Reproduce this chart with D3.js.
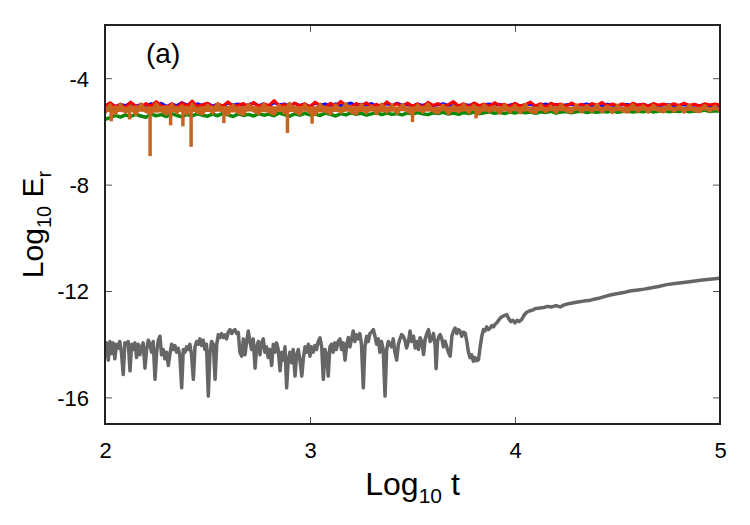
<!DOCTYPE html>
<html>
<head>
<meta charset="utf-8">
<script src="https://cdn.jsdelivr.net/npm/d3@7"></script>
<style>
  body { margin: 0; background: #fff; }
  text { font-family: "Liberation Sans", Arial, sans-serif; fill: #000; }
</style>
</head>
<body>
<div id="chart"></div>
<script>
// tick values
const xTicks = [2, 3, 4, 5];
const yTicks = [-4, -8, -12, -16];

// top band: one value per sample, samples spread evenly over log10 t = 2..5
const redVals = [-5.05,-4.92,-5.08,-4.98,-5.10,-4.90,-5.04,-5.12,-4.95,-5.06,
-4.88,-5.03,-5.09,-4.96,-5.11,-4.93,-5.05,-4.86,-5.07,-5.00,
-4.94,-5.10,-4.97,-5.04,-4.89,-5.08,-5.01,-4.95,-5.09,-4.91,
-5.06,-4.97,-5.02,-4.84,-5.05,-4.99,-5.10,-4.93,-5.04,-4.96,
-5.08,-4.90,-5.03,-5.11,-4.94,-5.06,-4.87,-5.02,-5.09,-4.95,
-5.04,-4.92,-5.07,-4.98,-5.10,-4.89,-5.03,-4.96,-5.08,-4.93,
-5.05,-4.97,-5.09,-4.91,-5.02,-4.95,-5.07,-4.99,-4.88,-5.04,
-4.96,-5.08,-4.93,-5.03,-4.97,-5.06,-4.92,-5.02,-4.98,-5.07,
-4.94,-5.05,-4.99,-4.90,-5.04,-4.96,-5.08,-4.94,-5.01,-4.97,
-5.06,-4.93,-5.03,-4.98,-5.07,-4.95,-5.02,-4.91,-5.05,-4.97,
-5.03,-4.96,-5.06,-4.94,-5.02,-4.98,-5.05,-4.95,-5.01,-4.97,
-5.04,-4.96,-5.03,-4.94,-5.02,-4.98,-5.05,-4.96,-5.01,-4.97,-5.00];

const blueVals = [-5.02,-4.95,-5.06,-4.98,-5.03,-4.93,-5.05,-4.99,-5.04,-4.96,
-5.01,-4.94,-5.06,-4.97,-5.03,-4.92,-5.00,-5.05,-4.96,-5.02,
-4.95,-5.04,-4.98,-5.06,-4.93,-5.01,-4.97,-5.05,-4.99,-4.94,
-5.03,-4.96,-5.05,-4.92,-5.00,-4.97,-5.04,-4.95,-5.02,-4.98,
-5.06,-4.94,-5.01,-4.97,-5.05,-4.96,-5.03,-4.99,-4.93,-5.04,
-4.98,-5.02,-4.95,-5.06,-5.00,-4.96,-5.03,-4.94,-5.01,-4.99,
-5.05,-4.97,-5.02,-4.95,-5.04,-5.00,-4.96,-5.03,-4.98,-5.05,
-4.99,-5.02,-4.96,-5.04,-5.00,-4.97,-5.03,-4.98,-5.06,-5.01,
-4.97,-5.04,-5.00,-4.98,-5.05,-5.01,-4.97,-5.03,-4.99,-5.04,
-5.00,-4.98,-5.05,-5.01,-4.97,-5.03,-5.00,-5.04,-4.98,-5.02,
-5.05,-5.00,-4.99,-5.04,-5.01,-4.98,-5.03,-5.00,-5.05,-5.01,
-4.99,-5.04,-5.02,-5.00,-5.05,-5.01,-5.03,-4.99,-5.04,-5.02,-5.03];

const greenVals = [-5.55,-5.48,-5.40,-5.46,-5.38,-5.44,-5.36,-5.42,-5.47,-5.35,
-5.41,-5.37,-5.44,-5.33,-5.40,-5.45,-5.36,-5.42,-5.34,-5.39,
-5.43,-5.35,-5.41,-5.32,-5.38,-5.44,-5.34,-5.40,-5.36,-5.42,
-5.33,-5.39,-5.35,-5.41,-5.31,-5.37,-5.43,-5.34,-5.39,-5.32,
-5.38,-5.35,-5.40,-5.31,-5.36,-5.42,-5.33,-5.38,-5.30,-5.36,
-5.32,-5.39,-5.34,-5.29,-5.37,-5.31,-5.36,-5.33,-5.38,-5.30,
-5.35,-5.29,-5.34,-5.37,-5.30,-5.33,-5.28,-5.35,-5.31,-5.36,
-5.29,-5.33,-5.27,-5.34,-5.30,-5.26,-5.32,-5.28,-5.33,-5.27,
-5.31,-5.25,-5.30,-5.27,-5.32,-5.26,-5.29,-5.24,-5.31,-5.27,
-5.25,-5.30,-5.26,-5.23,-5.29,-5.25,-5.28,-5.24,-5.27,-5.22,
-5.28,-5.25,-5.23,-5.27,-5.24,-5.26,-5.22,-5.27,-5.24,-5.21,
-5.26,-5.23,-5.25,-5.21,-5.26,-5.23,-5.24,-5.20,-5.25,-5.22,-5.24];

const orangeVals = [-5.30,-5.00,-5.34,-4.98,-5.28,-5.05,-5.36,-4.97,-5.25,-5.32,
-4.96,-5.22,-5.35,-5.00,-5.30,-5.04,-5.33,-4.98,-5.27,-5.34,
-5.02,-5.31,-4.96,-5.24,-5.35,-5.01,-5.29,-5.36,-4.99,-5.22,
-5.33,-4.97,-5.26,-5.35,-5.02,-5.30,-4.95,-5.24,-5.34,-5.00,
-5.29,-5.36,-4.98,-5.25,-5.33,-5.01,-5.28,-4.97,-5.26,-5.34,
-5.00,-5.30,-5.05,-5.33,-4.98,-5.27,-5.03,-5.31,-4.99,-5.24,
-5.32,-5.01,-5.28,-4.97,-5.23,-5.30,-5.02,-5.33,-5.04,-5.26,
-4.99,-5.29,-5.03,-5.31,-5.00,-5.25,-5.06,-5.30,-5.01,-5.27,
-5.03,-5.30,-4.99,-5.24,-5.29,-5.02,-5.26,-5.05,-5.28,-5.00,
-5.22,-5.28,-5.01,-5.27,-5.04,-5.24,-4.99,-5.26,-5.05,-5.29,
-5.02,-5.23,-5.27,-5.00,-5.25,-5.04,-5.28,-5.02,-5.22,-5.26,
-5.01,-5.24,-5.05,-5.27,-5.02,-5.22,-5.25,-5.03,-5.24,-5.06,-5.23];

// dense part of the orange series, seen as a solid ribbon (upper / lower edge)
const orangeCoreTop = [-5.06,-5.04,-5.07,-5.03,-5.05,-5.06,-5.02,-5.05,-5.04,-5.07,
-5.03,-5.06,-5.04,-5.05,-5.02,-5.06,-5.04,-5.07,-5.03,-5.05,
-5.06,-5.04,-5.05,-5.07,-5.03,-5.05,-5.06,-5.04,-5.07,-5.05,
-5.06,-5.04,-5.07,-5.05,-5.06,-5.04,-5.07,-5.05,-5.06,-5.08,
-5.05,-5.07,-5.06,-5.08,-5.05,-5.07,-5.06,-5.08,-5.06,-5.07,
-5.08,-5.06,-5.07,-5.09,-5.06,-5.08,-5.07,-5.09,-5.07,-5.08,-5.08];
const orangeCoreBottom = [-5.28,-5.26,-5.29,-5.25,-5.27,-5.30,-5.26,-5.28,-5.25,-5.29,
-5.27,-5.26,-5.28,-5.30,-5.25,-5.27,-5.29,-5.26,-5.28,-5.25,
-5.27,-5.29,-5.26,-5.28,-5.24,-5.27,-5.25,-5.28,-5.26,-5.24,
-5.27,-5.25,-5.26,-5.24,-5.27,-5.25,-5.23,-5.26,-5.24,-5.25,
-5.23,-5.25,-5.22,-5.24,-5.23,-5.25,-5.22,-5.24,-5.23,-5.22,
-5.24,-5.22,-5.23,-5.21,-5.23,-5.22,-5.21,-5.23,-5.22,-5.21,-5.22];

// narrow downward drops of the orange series: [log10 t, lowest value]
const orangeDrops = [[2.03,-5.62],[2.12,-5.55],[2.22,-6.93],[2.32,-5.77],[2.38,-5.81],
  [2.42,-6.58],[2.58,-5.69],[2.89,-6.06],[3.01,-5.71],[3.50,-5.65],[3.81,-5.51]];

// grey curve: [log10 t, log10 Er]
const grayCurve = [
[2.000,-14.5],[2.008,-13.95],[2.016,-14.6],[2.024,-13.9],[2.032,-14.35],[2.040,-13.95],[2.048,-14.55],[2.056,-14.0],
[2.064,-14.15],[2.072,-13.9],[2.080,-14.3],[2.089,-15.14],[2.097,-13.95],[2.105,-14.0],[2.113,-13.9],[2.122,-15.0],
[2.130,-14.0],[2.138,-14.2],[2.146,-13.95],[2.154,-14.5],[2.162,-14.0],[2.170,-14.4],[2.178,-14.1],[2.186,-13.95],
[2.195,-14.9],[2.203,-14.2],[2.211,-13.85],[2.219,-14.0],[2.227,-14.3],[2.235,-13.9],[2.244,-15.32],[2.252,-14.3],
[2.260,-13.85],[2.268,-13.7],[2.276,-14.4],[2.284,-14.2],[2.292,-14.55],[2.300,-14.3],[2.309,-14.8],[2.317,-14.35],
[2.325,-14.0],[2.333,-14.2],[2.341,-14.05],[2.349,-14.3],[2.357,-14.15],[2.365,-14.4],[2.374,-15.64],[2.382,-14.2],
[2.390,-14.3],[2.398,-14.1],[2.406,-14.2],[2.414,-14.0],[2.422,-14.4],[2.431,-15.32],[2.439,-14.1],[2.447,-13.9],
[2.455,-14.0],[2.463,-13.8],[2.471,-14.05],[2.479,-13.85],[2.487,-14.2],[2.495,-14.0],[2.504,-15.95],[2.512,-14.3],
[2.520,-13.9],[2.528,-14.0],[2.537,-15.32],[2.545,-14.0],[2.553,-13.64],[2.561,-13.75],[2.569,-13.6],[2.577,-13.75],
[2.585,-13.65],[2.593,-13.8],[2.601,-13.55],[2.610,-13.45],[2.618,-13.6],[2.626,-13.5],[2.634,-13.45],[2.642,-13.6],
[2.650,-13.55],[2.658,-14.3],[2.667,-14.45],[2.675,-13.8],[2.683,-14.4],[2.691,-13.9],[2.699,-13.5],[2.707,-13.9],
[2.715,-14.2],[2.723,-13.8],[2.732,-14.9],[2.740,-14.1],[2.748,-13.9],[2.756,-14.4],[2.764,-13.95],[2.772,-13.8],
[2.780,-14.3],[2.788,-14.1],[2.796,-14.5],[2.804,-14.2],[2.813,-14.8],[2.821,-14.0],[2.829,-14.3],[2.837,-13.95],
[2.845,-14.2],[2.854,-15.0],[2.862,-14.3],[2.870,-14.6],[2.878,-14.1],[2.886,-15.64],[2.894,-14.6],[2.902,-14.3],
[2.910,-14.7],[2.918,-14.2],[2.927,-15.2],[2.935,-14.4],[2.943,-14.2],[2.951,-14.6],[2.960,-15.2],[2.968,-14.5],
[2.976,-14.1],[2.984,-14.3],[2.992,-14.0],[3.000,-14.45],[3.008,-14.1],[3.016,-14.3],[3.024,-14.05],[3.032,-14.2],
[3.040,-13.9],[3.049,-13.76],[3.057,-14.1],[3.065,-15.32],[3.073,-14.2],[3.081,-14.4],[3.089,-15.2],[3.097,-14.1],
[3.105,-14.0],[3.113,-14.3],[3.121,-13.95],[3.129,-14.2],[3.137,-13.9],[3.146,-13.8],[3.154,-14.2],[3.162,-13.95],
[3.171,-14.6],[3.179,-14.0],[3.187,-13.75],[3.195,-14.1],[3.203,-13.8],[3.211,-13.5],[3.219,-13.9],[3.227,-13.65],
[3.235,-13.8],[3.243,-13.6],[3.251,-14.0],[3.260,-15.64],[3.268,-14.1],[3.276,-13.7],[3.284,-13.9],[3.292,-13.6],
[3.300,-13.55],[3.309,-13.45],[3.317,-13.7],[3.325,-14.0],[3.333,-13.8],[3.341,-14.3],[3.349,-13.9],[3.357,-14.2],
[3.366,-15.95],[3.374,-14.2],[3.382,-13.9],[3.390,-14.0],[3.398,-14.1],[3.406,-13.8],[3.414,-14.3],[3.423,-14.6],
[3.431,-14.0],[3.439,-13.8],[3.447,-13.64],[3.455,-13.7],[3.463,-13.85],[3.471,-14.14],[3.480,-13.9],[3.488,-13.5],
[3.496,-13.9],[3.505,-13.7],[3.513,-14.14],[3.521,-13.9],[3.529,-14.2],[3.537,-13.76],[3.545,-13.9],[3.554,-14.39],
[3.562,-13.8],[3.570,-13.6],[3.578,-13.45],[3.586,-13.9],[3.594,-13.82],[3.602,-13.6],[3.610,-14.0],[3.615,-14.92],
[3.622,-13.9],[3.629,-13.7],[3.635,-13.64],[3.643,-13.8],[3.651,-14.1],[3.659,-13.89],[3.667,-14.1],[3.675,-14.3],
[3.684,-14.45],[3.692,-13.7],[3.700,-13.5],[3.708,-13.39],[3.716,-13.6],[3.724,-13.45],[3.732,-13.51],[3.740,-13.7],
[3.748,-13.55],[3.757,-13.58],[3.765,-13.9],[3.773,-14.3],[3.781,-14.51],[3.789,-14.4],[3.797,-14.64],[3.805,-14.5],
[3.813,-14.62],[3.822,-14.58],[3.830,-14.1],[3.838,-13.7],[3.846,-13.45],[3.854,-13.5],[3.862,-13.35],[3.870,-13.45],
[3.879,-13.39],[3.887,-13.3],[3.895,-13.35],[3.903,-13.25],[3.911,-13.2],[3.920,-13.1],[3.930,-13.0],[3.940,-12.95],
[3.950,-12.92],[3.960,-12.89],[3.970,-13.05],[3.980,-13.15],[3.990,-13.1],[4.000,-13.2],[4.010,-13.1],[4.020,-13.15],
[4.033,-13.07],[4.045,-12.9],[4.057,-12.8],[4.070,-12.75],[4.085,-12.72],[4.100,-12.66],[4.122,-12.64],[4.140,-12.62],
[4.160,-12.58],[4.180,-12.6],[4.200,-12.55],[4.220,-12.6],[4.240,-12.52],[4.260,-12.48],[4.280,-12.45],[4.300,-12.42],
[4.334,-12.38],[4.360,-12.36],[4.390,-12.3],[4.415,-12.26],[4.440,-12.2],[4.470,-12.14],[4.496,-12.1],[4.530,-12.06],
[4.560,-12.0],[4.600,-11.96],[4.630,-11.93],[4.660,-11.89],[4.700,-11.83],[4.740,-11.76],[4.780,-11.72],[4.821,-11.68],
[4.860,-11.64],[4.903,-11.6],[4.950,-11.56],[5.000,-11.52]];

// set the dimensions and margins of the graph
const margin = {top: 25, right: 30, bottom: 101, left: 105},
    width = 750 - margin.left - margin.right,
    height = 525 - margin.top - margin.bottom;

const svg = d3.select("#chart")
  .append("svg")
    .attr("width", 750)
    .attr("height", 525)
  .append("g")
    .attr("transform", `translate(${margin.left}, ${margin.top})`);

const x = d3.scaleLinear().domain([2, 5]).range([0, width]);
const y = d3.scaleLinear().domain([-17, -2]).range([height, 0]);

svg.append("clipPath").attr("id", "clip")
  .append("rect").attr("width", width).attr("height", height);

// sample positions of the band series
const bandT = redVals.map((d, i) => 2 + 3 * i / (redVals.length - 1));
const coreT = orangeCoreTop.map((d, i) => 2 + 3 * i / (orangeCoreTop.length - 1));
const line = d3.line().x(d => x(d[0])).y(d => y(d[1]));

const plot = svg.append("g").attr("clip-path", "url(#clip)");

const drawBand = (vals, color, w) => {
  plot.append("path")
    .datum(vals.map((v, i) => [bandT[i], v]))
    .attr("fill", "none")
    .attr("stroke", color)
    .attr("stroke-width", w)
    .attr("stroke-linejoin", "round")
    .attr("d", line);
};
drawBand(greenVals, "#0a8a0a", 3.5);
drawBand(blueVals, "#1010ff", 3);
drawBand(redVals, "#ff0000", 3);

// orange ribbon body
plot.append("path")
  .datum(orangeCoreTop.map((v, i) => [coreT[i], v, orangeCoreBottom[i]]))
  .attr("fill", "#c8641e")
  .attr("d", d3.area().x(d => x(d[0])).y0(d => y(d[2])).y1(d => y(d[1])));
drawBand(orangeVals, "#c8641e", 3.5);

// orange drops
plot.selectAll(".drop")
  .data(orangeDrops)
  .join("line")
    .attr("x1", d => x(d[0])).attr("x2", d => x(d[0]))
    .attr("y1", y(-5.15)).attr("y2", d => y(d[1]))
    .attr("stroke", "#c8641e")
    .attr("stroke-width", 3.5);

// grey curve
plot.append("path")
  .datum(grayCurve)
  .attr("fill", "none")
  .attr("stroke", "#666666")
  .attr("stroke-width", 3.5)
  .attr("stroke-linejoin", "round")
  .attr("d", line);

// axes with inside ticks, mirrored on top and right
const tickStyle = g => {
  g.select(".domain").remove();
  g.selectAll(".tick line").attr("stroke", "#555").attr("stroke-width", 1);
};

svg.append("g")
  .attr("transform", `translate(0,${height})`)
  .call(d3.axisBottom(x).tickValues(xTicks).tickFormat(d => String(d)).tickSize(-7))
  .call(tickStyle)
  .call(g => g.selectAll("text").attr("y", 34).attr("dy", 0)
    .style("font-size", "22px").style("font-family", "Liberation Sans, Arial, sans-serif").attr("fill", "#000"));

svg.append("g")
  .call(d3.axisTop(x).tickValues(xTicks).tickFormat("").tickSize(-7))
  .call(tickStyle);

svg.append("g")
  .call(d3.axisLeft(y).tickValues(yTicks).tickFormat(d => String(d)).tickSize(-7).tickPadding(16))
  .call(tickStyle)
  .call(g => g.selectAll("text").attr("x", -16).attr("dy", "0.36em")
    .style("font-size", "22px").style("font-family", "Liberation Sans, Arial, sans-serif").attr("fill", "#000"));

svg.append("g")
  .attr("transform", `translate(${width},0)`)
  .call(d3.axisRight(y).tickValues(yTicks).tickFormat("").tickSize(-7))
  .call(tickStyle);

// frame
svg.append("rect")
  .attr("width", width).attr("height", height)
  .attr("fill", "none")
  .attr("stroke", "#222")
  .attr("stroke-width", 2);

// panel label
svg.append("text")
  .attr("x", 41).attr("y", 38)
  .style("font-size", "28px")
  .text("(a)");

// axis titles
const xt = svg.append("text")
  .attr("x", width / 2).attr("y", 470)
  .attr("text-anchor", "middle")
  .style("font-size", "32px");
xt.append("tspan").text("Log");
xt.append("tspan").attr("dy", 8).style("font-size", "21px").text("10");
xt.append("tspan").attr("dy", -8).text(" t");

const yt = svg.append("text")
  .attr("transform", `translate(${-62},${height / 2}) rotate(-90)`)
  .attr("text-anchor", "middle")
  .style("font-size", "30px");
yt.append("tspan").text("Log");
yt.append("tspan").attr("dy", 8).style("font-size", "20px").text("10");
yt.append("tspan").attr("dy", -8).text(" E");
yt.append("tspan").attr("dy", 8).style("font-size", "20px").text("r");
</script>
</body>
</html>
